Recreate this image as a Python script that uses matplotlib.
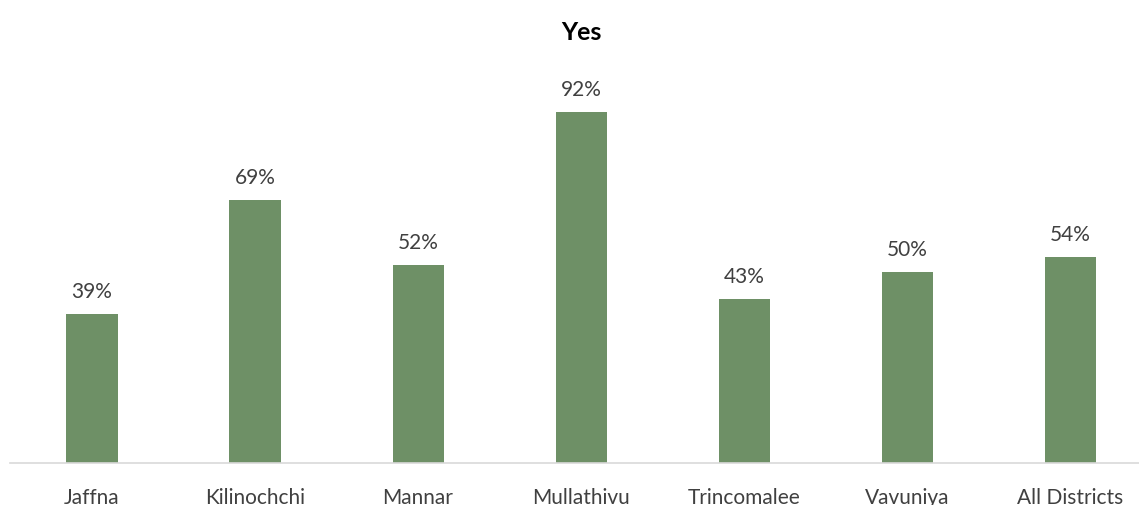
import matplotlib.pyplot as plt

# Data
districts = ["Jaffna", "Kilinochchi", "Mannar", "Mullathivu", "Trincomalee", "Vavuniya", "All Districts"]
yes_pct = [39, 69, 52, 92, 43, 50, 54]

plt.rcParams['font.family'] = ['Lato', 'DejaVu Sans']

W, H = 1139, 506
fig = plt.figure(figsize=(W / 100, H / 100), dpi=100)
ax = fig.add_axes([10 / W, 42 / H, (1139 - 10) / W, 381.5 / H])

x = range(len(districts))
bars = ax.bar(x, yes_pct, width=0.313, color="#6E9066")

for xi, v in zip(x, yes_pct):
    ax.text(xi, v + 3.4, f"{v}%", ha="center", va="bottom", fontsize=15, color="#404040")

ax.set_xlim(-0.503, 6.423)
ax.set_ylim(0, 100)
ax.set_yticks([])
ax.set_xticks(list(x))
ax.set_xticklabels(districts, fontsize=15, color="#404040")
ax.tick_params(axis="x", length=0, pad=17)

for s in ["top", "right", "left"]:
    ax.spines[s].set_visible(False)
ax.spines["bottom"].set_color("#D9D9D9")
ax.spines["bottom"].set_linewidth(1.2)

fig.text(581 / W, 1 - 32 / H, "Yes", ha="center", va="center", fontsize=18, fontweight="bold", color="black")

fig.savefig("out.png", dpi=100)
